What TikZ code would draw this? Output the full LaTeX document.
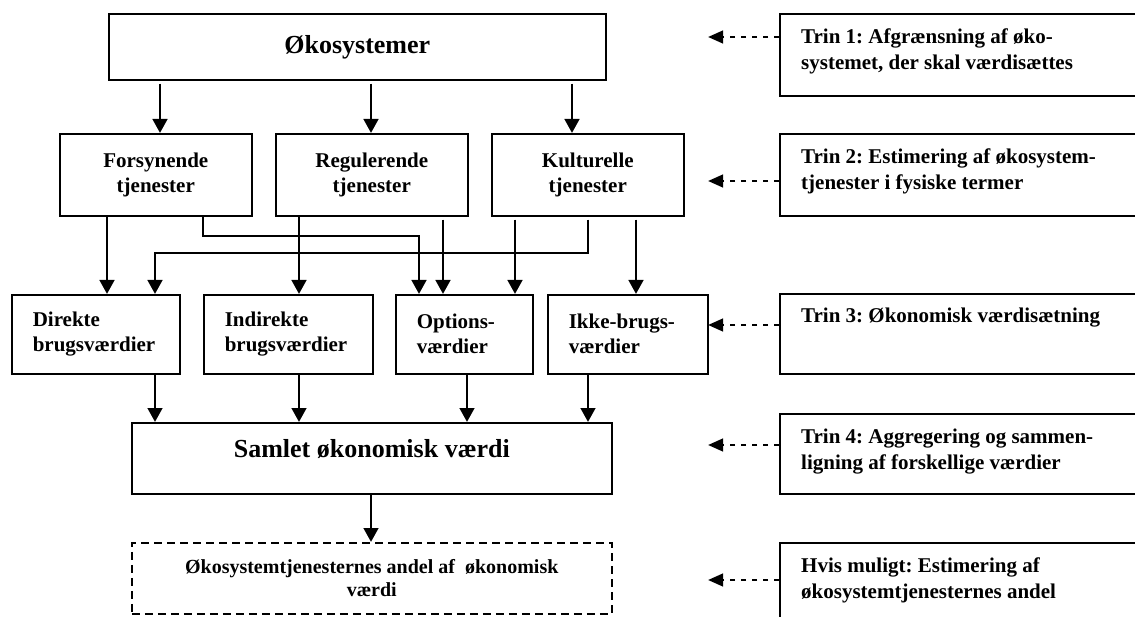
\documentclass[tikz,border=0pt]{standalone}
\usepackage{fontspec}
\setmainfont{Liberation Serif}
\usetikzlibrary{arrows.meta,calc}
\frenchspacing
\begin{document}
\begin{tikzpicture}[x=1pt,y=-1pt,
  box/.style={draw=black, line width=1.6pt, inner sep=0pt, anchor=north west},
  dbox/.style={draw=black, line width=1.5pt, dash pattern=on 8pt off 5pt, inner sep=0pt, anchor=north west},
  arr/.style={line width=2.9pt, -{Triangle[length=14pt,width=14.5pt]}},
  darr/.style={line width=2.6pt, dash pattern=on 5pt off 6pt, -{Triangle[length=15pt,width=12.5pt]}},
  fbig/.style={font=\fontsize{26}{30}\selectfont\bfseries},
  fmid/.style={font=\fontsize{21}{25}\selectfont\bfseries},
  fstep/.style={font=\fontsize{21}{26}\selectfont\bfseries},
  fand/.style={font=\fontsize{20}{23}\selectfont\bfseries},
  rowtwo/.style={box, fmid, minimum width=192pt, minimum height=82pt, align=center},
  rowthree/.style={box, fmid, minimum height=79pt, inner xsep=21pt, align=left},
  stepbox/.style={box, minimum width=420pt},
  steptext/.style={fstep, inner sep=0pt, anchor=north west, align=left}
]
\useasboundingbox (0,0) rectangle (1135,617);
\fill[white] (0,0) rectangle (1135,617);

% main boxes
\node[box, fbig, minimum width=497pt, minimum height=66pt] (eco) at (108,13) {Økosystemer};
\node[rowtwo] (fors) at (59,133) {Forsynende\\tjenester};
\node[rowtwo] (reg) at (275,133) {Regulerende\\tjenester};
\node[rowtwo] (kult) at (491,133) {Kulturelle\\tjenester};

\node[rowthree, text width=126pt] (dir) at (11,294) {Direkte\\brugsværdier};
\node[rowthree, text width=127pt] (ind) at (203,294) {Indirekte\\brugsværdier};
\node[rowthree, text width=95pt] (opt) at (395,294) {Options-\\værdier};
\node[rowthree, text width=118pt] (ikke) at (547,294) {Ikke-brugs-\\værdier};

\node[box, minimum width=480pt, minimum height=71pt] (sam) at (131,422) {};
\node[fbig, inner sep=0pt] (samtxt) at ([yshift=9pt]sam.center) {Samlet økonomisk værdi};

\node[dbox, fand, minimum width=480pt, minimum height=71pt, align=center] (andel) at (131,542)
  {Økosystemtjenesternes andel af\ \ økonomisk\\værdi};

% step boxes
\node[stepbox, minimum height=82pt] (t1) at (779,13) {};
\node[stepbox, minimum height=82pt] (t2) at (779,133) {};
\node[stepbox, minimum height=80pt] (t3) at (779,293) {};
\node[stepbox, minimum height=80pt] (t4) at (779,413) {};
\node[stepbox, minimum height=100pt] (t5) at (779,542) {};

\node[steptext] (t1txt) at ([xshift=22pt,yshift=-15.5pt]t1.north west) {Trin 1: Afgrænsning af øko-\\systemet, der skal værdisættes};
\node[steptext] (t2txt) at ([xshift=22pt,yshift=-15.5pt]t2.north west) {Trin 2: Estimering af økosystem-\\tjenester i fysiske termer};
\node[steptext] (t3txt) at ([xshift=22pt,yshift=-14.5pt]t3.north west) {Trin 3: Økonomisk værdisætning};
\node[steptext] (t4txt) at ([xshift=22pt,yshift=-15.5pt]t4.north west) {Trin 4: Aggregering og sammen-\\ligning af forskellige værdier};
\node[steptext] (t5txt) at ([xshift=22pt,yshift=-15.5pt]t5.north west) {Hvis muligt: Estimering af\\økosystemtjenesternes andel};

% helper coordinates
\coordinate (x107) at (107,0);
\coordinate (x155) at (155,0);
\coordinate (x160) at (160,0);
\coordinate (x203) at (203,0);
\coordinate (x299) at (299,0);
\coordinate (x371) at (371,0);
\coordinate (x443) at (443,0);
\coordinate (x467) at (467,0);
\coordinate (x515) at (515,0);
\coordinate (x572) at (572,0);
\coordinate (x588) at (588,0);
\coordinate (x636) at (636,0);
\coordinate (c1) at (419,236);
\coordinate (c2) at (155,253);
\coordinate (d1) at (708,37);
\coordinate (d2) at (708,181);
\coordinate (d3) at (708,325);
\coordinate (d4) at (708,445);
\coordinate (d5) at (708,580);

% arrows top
\draw[arr, shorten <=3pt] (eco.south -| x160) -- (fors.north -| x160);
\draw[arr, shorten <=3pt] (eco.south -| x371) -- (reg.north -| x371);
\draw[arr, shorten <=3pt] (eco.south -| x572) -- (kult.north -| x572);

% row 2 to row 3
\draw[arr] (fors.south -| x107) -- (dir.north -| x107);
\draw[arr] (fors.south -| x203) |- (c1) -- (opt.north -| c1);
\draw[arr] (reg.south -| x299) -- (ind.north -| x299);
\draw[arr, shorten <=3pt] (reg.south -| x443) -- (opt.north -| x443);
\draw[arr, shorten <=3pt] (kult.south -| x515) -- (opt.north -| x515);
\draw[arr, shorten <=3pt] (kult.south -| x588) |- (c2) -- (dir.north -| c2);
\draw[arr, shorten <=3pt] (kult.south -| x636) -- (ikke.north -| x636);

% row 3 to total
\draw[arr] (dir.south -| x155) -- (sam.north -| x155);
\draw[arr] (ind.south -| x299) -- (sam.north -| x299);
\draw[arr] (opt.south -| x467) -- (sam.north -| x467);
\draw[arr] (ikke.south -| x588) -- (sam.north -| x588);
\draw[arr] (sam.south -| x371) -- (andel.north -| x371);

% dashed step arrows
\draw[darr] (t1.west |- d1) -- (d1);
\draw[darr] (t2.west |- d2) -- (d2);
\draw[darr] (t3.west |- d3) -- (d3);
\draw[darr] (t4.west |- d4) -- (d4);
\draw[darr] (t5.west |- d5) -- (d5);
\end{tikzpicture}
\end{document}
